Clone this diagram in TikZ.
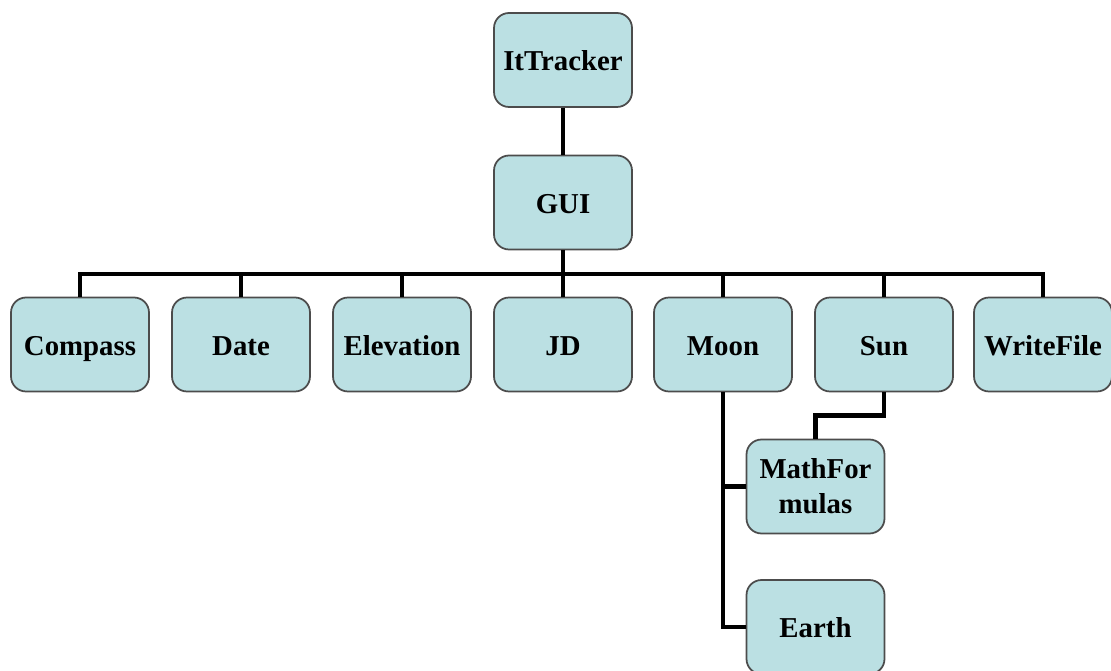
\documentclass[tikz,border=0pt]{standalone}
\usepackage{fontspec}
\setmainfont{Liberation Serif}
\definecolor{boxcyan}{RGB}{187,224,227}
\tikzset{
  module/.style={rectangle, rounded corners=0.3cm, fill=boxcyan, draw=black!70, line width=1pt,
    minimum width=2.76cm, minimum height=1.88cm, inner sep=0pt,
    font=\fontsize{16.4}{20}\selectfont\bfseries},
  oneline/.style={module, text height=3.05ex, text depth=0.42ex},
  twoline/.style={module, align=center},
  link/.style={line width=2.5pt, draw=black, line join=miter},
}
\begin{document}
\begin{tikzpicture}[x=0.02cm, y=-0.02cm]
\useasboundingbox (0,0) rectangle (1111,671);
\node[oneline] (tracker) at (563,60) {ItTracker};
\node[oneline] (gui) at (563,202.5) {GUI};
\node[oneline] (compass) at (80,344.5) {Compass};
\node[oneline] (date) at (241,344.5) {Date};
\node[oneline] (elevation) at (402,344.5) {Elevation};
\node[oneline] (jd) at (563,344.5) {JD};
\node[oneline] (moon) at (723,344.5) {Moon};
\node[oneline] (sun) at (884,344.5) {Sun};
\node[oneline] (writefile) at (1043,344.5) {WriteFile};
\node[twoline] (math) at (815.5,486.5) {MathFor\\mulas};
\node[oneline] (earth) at (815.5,627) {Earth};
\coordinate (bus) at (563,274);
\draw[link] (tracker.south) -- (gui.north);
\draw[link] (gui.south) -- (bus);
\foreach \child in {compass,date,elevation,jd,moon,sun,writefile}
  \draw[link] (bus) -| (\child.north);
\draw[link] (moon.south) |- (math.west);
\draw[link] (moon.south) |- (earth.west);
\draw[link] (sun.south) -- ++(0,23) -| (math.north);
\end{tikzpicture}
\end{document}
